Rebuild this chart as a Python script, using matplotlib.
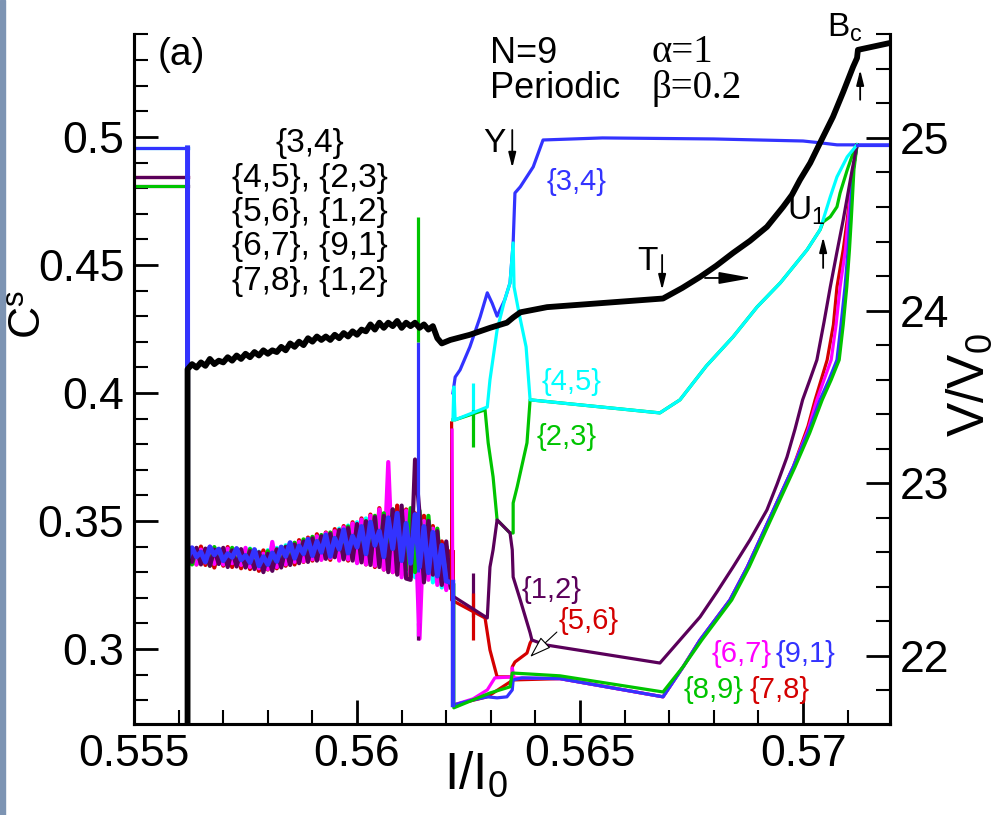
import matplotlib
matplotlib.use("Agg")
import matplotlib.pyplot as plt
from matplotlib.patches import Rectangle
from matplotlib.ticker import MultipleLocator, FuncFormatter

plt.rcParams['font.family'] = ['Liberation Sans', 'DejaVu Sans']
plt.rcParams['mathtext.fontset'] = 'custom'
plt.rcParams['mathtext.rm'] = 'Liberation Sans'
plt.rcParams['mathtext.it'] = 'Liberation Sans:italic'
plt.rcParams['mathtext.bf'] = 'Liberation Sans:bold'

BLUE = '#3333ff'
PURPLE = '#5a005a'
GREEN = '#00c400'
RED = '#d40000'
MAGENTA = '#ff00ff'
CYAN = '#00ffff'

# ---- data : Cs (left axis) -------------------------------------------------
pre_x = [0.5550, 0.5562]
pre_blue = [0.4957, 0.4957]
pre_purple = [0.4844, 0.4844]
pre_green = [0.4809, 0.4809]

band_x = [0.5562, 0.5563, 0.5564, 0.5565, 0.5566, 0.5567, 0.5568, 0.5569, 0.5570, 0.5571,
          0.5572, 0.5573, 0.5574, 0.5575, 0.5576, 0.5577, 0.5578, 0.5579, 0.5580, 0.5581,
          0.5582, 0.5583, 0.5584, 0.5585, 0.5586, 0.5587, 0.5588, 0.5589, 0.5590, 0.5591,
          0.5592, 0.5593, 0.5594, 0.5595, 0.5596, 0.5597, 0.5598, 0.5599, 0.5600, 0.5601,
          0.5602, 0.5603, 0.5604, 0.5605, 0.5606, 0.5607, 0.5608, 0.5609, 0.5610, 0.5611,
          0.5612, 0.5613, 0.5614, 0.5615, 0.5616, 0.5617, 0.5618, 0.5619, 0.5620, 0.5621]

band_blue = [0.3352, 0.3395, 0.3360, 0.3378, 0.3340, 0.3398, 0.3368, 0.3390, 0.3345, 0.3372,
             0.3358, 0.3392, 0.3348, 0.3365, 0.3338, 0.3388, 0.3325, 0.3360, 0.3330, 0.3375,
             0.3342, 0.3398, 0.3362, 0.3415, 0.3355, 0.3402, 0.3372, 0.3428, 0.3365, 0.3420,
             0.3378, 0.3445, 0.3362, 0.3432, 0.3390, 0.3465, 0.3375, 0.3440, 0.3398, 0.3478,
             0.3372, 0.3495, 0.3405, 0.3460, 0.3360, 0.3512, 0.3392, 0.3530, 0.3345, 0.3490,
             0.3335, 0.3525, 0.3320, 0.3478, 0.3298, 0.3455, 0.3285, 0.3405, 0.3265, 0.3260]
band_green = [0.3375, 0.3330, 0.3392, 0.3335, 0.3388, 0.3325, 0.3398, 0.3340, 0.3385, 0.3328,
              0.3395, 0.3330, 0.3380, 0.3322, 0.3390, 0.3318, 0.3375, 0.3310, 0.3382, 0.3315,
              0.3390, 0.3325, 0.3400, 0.3335, 0.3415, 0.3345, 0.3428, 0.3350, 0.3438, 0.3355,
              0.3445, 0.3360, 0.3455, 0.3365, 0.3462, 0.3355, 0.3478, 0.3360, 0.3485, 0.3352,
              0.3500, 0.3345, 0.3520, 0.3340, 0.3530, 0.3330, 0.3545, 0.3320, 0.3535, 0.3310,
              0.3550, 0.3300, 0.3540, 0.3290, 0.3520, 0.3300, 0.3470, 0.3260, 0.3400, 0.3250]
band_red = [0.3320, 0.3385, 0.3330, 0.3400, 0.3328, 0.3395, 0.3318, 0.3390, 0.3325, 0.3398,
            0.3320, 0.3392, 0.3315, 0.3385, 0.3312, 0.3378, 0.3305, 0.3385, 0.3310, 0.3390,
            0.3315, 0.3398, 0.3325, 0.3410, 0.3330, 0.3425, 0.3340, 0.3435, 0.3345, 0.3448,
            0.3350, 0.3455, 0.3348, 0.3468, 0.3352, 0.3480, 0.3345, 0.3495, 0.3340, 0.3510,
            0.3330, 0.3525, 0.3320, 0.3550, 0.3310, 0.3580, 0.3300, 0.3560, 0.3290, 0.3545,
            0.3280, 0.3530, 0.3285, 0.3520, 0.3300, 0.3480, 0.3280, 0.3420, 0.3250, 0.3380]
band_magenta = [0.3360, 0.3395, 0.3330, 0.3388, 0.3338, 0.3400, 0.3332, 0.3385, 0.3330, 0.3392,
                0.3335, 0.3380, 0.3328, 0.3395, 0.3320, 0.3380, 0.3315, 0.3372, 0.3312, 0.3418,
                0.3320, 0.3390, 0.3330, 0.3405, 0.3340, 0.3418, 0.3342, 0.3430, 0.3350, 0.3440,
                0.3348, 0.3452, 0.3355, 0.3460, 0.3345, 0.3475, 0.3350, 0.3490, 0.3335, 0.3505,
                0.3330, 0.3520, 0.3325, 0.3545, 0.3310, 0.3730, 0.3300, 0.3530, 0.3280, 0.3540,
                0.3290, 0.3510, 0.3040, 0.3500, 0.3270, 0.3470, 0.3250, 0.3400, 0.3230, 0.3350]
band_purple = [0.3410, 0.3340, 0.3395, 0.3330, 0.3392, 0.3325, 0.3388, 0.3332, 0.3395, 0.3320,
               0.3385, 0.3322, 0.3390, 0.3318, 0.3382, 0.3312, 0.3378, 0.3300, 0.3372, 0.3305,
               0.3388, 0.3318, 0.3398, 0.3328, 0.3408, 0.3335, 0.3420, 0.3340, 0.3432, 0.3345,
               0.3440, 0.3352, 0.3450, 0.3358, 0.3465, 0.3350, 0.3472, 0.3345, 0.3488, 0.3338,
               0.3498, 0.3328, 0.3515, 0.3320, 0.3520, 0.3300, 0.3545, 0.3290, 0.3560, 0.3275,
               0.3270, 0.3740, 0.3530, 0.3260, 0.3500, 0.3290, 0.3460, 0.3250, 0.3420, 0.3240]
band_cyan = [0.3385, 0.3335, 0.3392, 0.3340, 0.3380, 0.3328, 0.3395, 0.3332, 0.3390, 0.3325,
             0.3388, 0.3330, 0.3384, 0.3320, 0.3392, 0.3315, 0.3380, 0.3308, 0.3386, 0.3318,
             0.3395, 0.3322, 0.3405, 0.3330, 0.3412, 0.3338, 0.3425, 0.3345, 0.3435, 0.3350,
             0.3442, 0.3358, 0.3450, 0.3362, 0.3470, 0.3365, 0.3482, 0.3355, 0.3495, 0.3348,
             0.3510, 0.3340, 0.3518, 0.3330, 0.3525, 0.3320, 0.3540, 0.3310, 0.3530, 0.3290,
             0.3520, 0.3280, 0.3515, 0.3270, 0.3490, 0.3260, 0.3450, 0.3240, 0.3400, 0.3260]

# branches after the band
blue34_x = [0.56215, 0.56220, 0.56231, 0.56253, 0.56276, 0.56292, 0.56303, 0.56314, 0.56331,
            0.56343, 0.56350, 0.56354, 0.56366, 0.56395, 0.56417, 0.5655, 0.5680, 0.5700,
            0.57038, 0.57076, 0.57121, 0.57195]
blue34_y = [0.4000, 0.4062, 0.4090, 0.4180, 0.4297, 0.4391, 0.4350, 0.4300, 0.4363,
            0.4430, 0.4586, 0.4781, 0.4805, 0.4883, 0.4988, 0.4996, 0.4992, 0.4984,
            0.4977, 0.4969, 0.4969, 0.4969]
blue91_x = [0.56216, 0.56216, 0.56260, 0.56292, 0.56314, 0.56336, 0.56348, 0.56350, 0.56370,
            0.56455, 0.56686, 0.56731, 0.56769, 0.56836, 0.56875, 0.56910, 0.56978, 0.57011,
            0.57038, 0.57058, 0.57076, 0.57085, 0.57094, 0.57101, 0.57105, 0.57112, 0.57121]
blue91_y = [0.3260, 0.2781, 0.2801, 0.2813, 0.2809, 0.2813, 0.2840, 0.2879, 0.2887,
            0.2884, 0.2813, 0.2930, 0.3035, 0.3191, 0.3320, 0.3453, 0.3711, 0.3844,
            0.3973, 0.4051, 0.4129, 0.4266, 0.4414, 0.4559, 0.4676, 0.4871, 0.4969]
green89_x = [0.56217, 0.56217, 0.56298, 0.56343, 0.56348, 0.56388, 0.56455, 0.56686, 0.56733,
             0.56773, 0.56840, 0.56879, 0.56914, 0.56982, 0.57015, 0.57043, 0.57063, 0.57081,
             0.57090, 0.57098, 0.57104, 0.57108, 0.57114, 0.57121]
green89_y = [0.3250, 0.2770, 0.2828, 0.2852, 0.2906, 0.2902, 0.2895, 0.2832, 0.2935,
             0.3035, 0.3191, 0.3320, 0.3453, 0.3711, 0.3844, 0.3973, 0.4051, 0.4129,
             0.4266, 0.4414, 0.4559, 0.4676, 0.4871, 0.4969]
green23_x = [0.56215, 0.56220, 0.56287, 0.56294, 0.56305, 0.56314, 0.56343, 0.56350, 0.56350,
             0.56359, 0.56381, 0.56388, 0.56679, 0.56724, 0.56783, 0.56843, 0.56897, 0.56949,
             0.57009, 0.57038, 0.57045, 0.57061, 0.57076, 0.57083, 0.57099, 0.57117, 0.57121]
green23_y = [0.3895, 0.3895, 0.3934, 0.3805, 0.3672, 0.3504, 0.3453, 0.3453, 0.3570,
             0.3633, 0.3805, 0.3973, 0.3922, 0.3973, 0.4105, 0.4219, 0.4336, 0.4430,
             0.4559, 0.4637, 0.4668, 0.4688, 0.4727, 0.4781, 0.4871, 0.4961, 0.4969]
cyan45_x = [0.56215, 0.56217, 0.56220, 0.56292, 0.56298, 0.56314, 0.56331, 0.56343, 0.56350,
            0.56352, 0.56363, 0.56379, 0.56388, 0.56679, 0.56724, 0.56783, 0.56843, 0.56897,
            0.56949, 0.57009, 0.57038, 0.57061, 0.57076, 0.57099, 0.57121]
cyan45_y = [0.3895, 0.4023, 0.3895, 0.3945, 0.4051, 0.4246, 0.4363, 0.4430, 0.4586,
            0.4414, 0.4313, 0.4180, 0.3973, 0.3922, 0.3973, 0.4105, 0.4219, 0.4336,
            0.4430, 0.4559, 0.4637, 0.4766, 0.4844, 0.4922, 0.4969]
purple12_x = [0.56218, 0.56292, 0.56298, 0.56305, 0.56314, 0.56343, 0.56348, 0.56350, 0.56366,
              0.56388, 0.56392, 0.56422, 0.56679, 0.56724, 0.56769, 0.56807, 0.56843, 0.56881,
              0.56919, 0.56942, 0.56964, 0.56982, 0.56999, 0.57016, 0.57031, 0.57047, 0.57061,
              0.57076, 0.57090, 0.57110, 0.57121]
purple12_y = [0.3203, 0.3121, 0.3320, 0.3387, 0.3504, 0.3453, 0.3387, 0.3281, 0.3191,
              0.3063, 0.3035, 0.3016, 0.2945, 0.3035, 0.3125, 0.3223, 0.3320, 0.3426,
              0.3543, 0.3645, 0.3750, 0.3859, 0.3973, 0.4055, 0.4129, 0.4277, 0.4414,
              0.4551, 0.4676, 0.4871, 0.4969]
red56_x = [0.56212, 0.56212, 0.56287, 0.56298, 0.56314, 0.56348, 0.56348, 0.56354, 0.56381,
           0.56388, 0.56392]
red56_y = [0.3883, 0.3191, 0.3121, 0.2996, 0.2891, 0.2891, 0.2930, 0.2949, 0.2984,
           0.3023, 0.3035]
red78_x = [0.56216, 0.56216, 0.56292, 0.56350, 0.56455, 0.56686, 0.56731, 0.56769, 0.56836,
           0.56875, 0.56910, 0.56978, 0.57011, 0.57027, 0.57054, 0.57068, 0.57076, 0.57090,
           0.57099, 0.57112, 0.57121]
red78_y = [0.3380, 0.2781, 0.2813, 0.2879, 0.2884, 0.2813, 0.2930, 0.3035, 0.3191,
           0.3320, 0.3453, 0.3711, 0.3870, 0.3973, 0.4129, 0.4266, 0.4414, 0.4559,
           0.4676, 0.4871, 0.4969]
magenta67_x = [0.56213, 0.56216, 0.56260, 0.56292, 0.56309, 0.56348, 0.56348, 0.56352, 0.56455,
               0.56686, 0.56731, 0.56769, 0.56836, 0.56875, 0.56910, 0.56978, 0.57011, 0.57031,
               0.57063, 0.57074, 0.57083, 0.57095, 0.57101, 0.57112, 0.57121]
magenta67_y = [0.3855, 0.2781, 0.2805, 0.2840, 0.2887, 0.2891, 0.2926, 0.2887, 0.2884,
               0.2813, 0.2930, 0.3035, 0.3191, 0.3320, 0.3453, 0.3711, 0.3855, 0.3973,
               0.4129, 0.4266, 0.4414, 0.4559, 0.4676, 0.4871, 0.4969]

# isolated spikes: (x, low, high)
spike_x = [0.56137, 0.56137, 0.56137, 0.56137, 0.56260, 0.56260, 0.56260, 0.56260]
spike_lo = [0.3050, 0.4199, 0.3036, 0.3050, 0.3895, 0.3789, 0.3125, 0.3035]
spike_hi = [0.4199, 0.4688, 0.3100, 0.3300, 0.4039, 0.3934, 0.3297, 0.3219]
spike_c = [BLUE, GREEN, PURPLE, MAGENTA, CYAN, GREEN, PURPLE, RED]

# ---- data : V/V0 (right axis) ----------------------------------------------
black_rise_x = [0.5562]
black_rise_v = [21.50]
black_noise_v = [23.66, 23.69, 23.67, 23.70, 23.68, 23.72, 23.69, 23.71, 23.70, 23.73,
                 23.71, 23.74, 23.72, 23.75, 23.73, 23.76, 23.74, 23.77, 23.75, 23.77,
                 23.76, 23.79, 23.77, 23.81, 23.79, 23.82, 23.80, 23.84, 23.82, 23.85,
                 23.83, 23.85, 23.83, 23.86, 23.84, 23.87, 23.85, 23.88, 23.86, 23.89,
                 23.88, 23.92, 23.89, 23.93, 23.90, 23.93, 23.91, 23.94, 23.90, 23.93,
                 23.91, 23.93, 23.90, 23.92, 23.89, 23.91, 23.84]
black_smooth_x = [0.56190, 0.56209, 0.56253, 0.56298, 0.56336, 0.56350, 0.56366, 0.56426,
                  0.56686, 0.56729, 0.56769, 0.56805, 0.56843, 0.56881, 0.56919, 0.56955,
                  0.56975, 0.56993, 0.57016, 0.57038, 0.57067, 0.57090, 0.57112, 0.57121,
                  0.57123, 0.57195]
black_smooth_v = [23.81, 23.83, 23.86, 23.90, 23.93, 23.96, 23.99, 24.02,
                  24.07, 24.131, 24.195, 24.259, 24.334, 24.404, 24.485, 24.60,
                  24.67, 24.757, 24.855, 24.971, 25.122, 25.266, 25.411, 25.463,
                  25.51, 25.55]

fig = plt.figure(figsize=(10.04, 8.15), dpi=100)
fig.patches.append(Rectangle((0, 0), 5 / 1004, 1, transform=fig.transFigure,
                             color='#7d94b3', zorder=0))
ax = fig.add_axes([0.1335, 0.1117, 0.753, 0.8466])
ax2 = ax.twinx()

# flat part and noisy band
for pre_y, band_y, col in [(pre_blue, band_cyan, CYAN), (pre_purple, band_red, RED),
                           (pre_green, band_magenta, MAGENTA), (pre_green, band_green, GREEN),
                           (pre_purple, band_purple, PURPLE), (pre_blue, band_blue, BLUE)]:
    ax.plot(pre_x, pre_y, color=col, lw=2.3, zorder=2)
    ax.plot(pre_x[-1:] + band_x, pre_y[-1:] + band_y, color=col,
            lw=3.6 if col == BLUE else 3.0, zorder=2)

ax.vlines(spike_x, spike_lo, spike_hi, colors=spike_c, lw=2.3, zorder=2)

branches = [(red56_x, red56_y, RED), (red78_x, red78_y, RED),
            (magenta67_x, magenta67_y, MAGENTA),
            (blue34_x, blue34_y, BLUE), (blue91_x, blue91_y, BLUE),
            (green89_x, green89_y, GREEN), (green23_x, green23_y, GREEN),
            (purple12_x, purple12_y, PURPLE), (cyan45_x, cyan45_y, CYAN)]
for bx, by, col in branches:
    ax.plot(bx, by, color=col, lw=2.3, zorder=3)
ax.plot(blue91_x[:2], blue91_y[:2], color=BLUE, lw=3.2, zorder=3)
# blue flat tail on top
ax.plot(blue34_x[-2:], blue34_y[-2:], color=BLUE, lw=2.3, zorder=4)

black_x = black_rise_x + band_x[:len(black_noise_v)] + black_smooth_x
black_v = black_rise_v + black_noise_v + black_smooth_v
ax2.plot(black_x, black_v, color='k', lw=4.2, zorder=5)

# axes
ax.set_xlim(0.555, 0.57195)
ax.set_ylim(0.2707, 0.5402)
ax2.set_ylim(21.606, 25.602)
fmt = FuncFormatter(lambda v, p: f'{round(v, 4):g}')
ax.xaxis.set_major_locator(MultipleLocator(0.005))
ax.xaxis.set_minor_locator(MultipleLocator(0.001))
ax.yaxis.set_major_locator(MultipleLocator(0.05))
ax.yaxis.set_minor_locator(MultipleLocator(0.01))
ax2.yaxis.set_major_locator(MultipleLocator(1))
ax2.yaxis.set_minor_locator(MultipleLocator(0.2))
ax.xaxis.set_major_formatter(fmt)
ax.yaxis.set_major_formatter(fmt)
ax2.yaxis.set_major_formatter(fmt)

for a in (ax, ax2):
    a.spines['top'].set_visible(False)
    for s in ('left', 'right', 'bottom'):
        a.spines[s].set_linewidth(2.2)
    a.tick_params(which='major', direction='in', length=17, width=2, labelsize=32, pad=7)
    a.tick_params(which='minor', direction='in', length=10, width=1.5)
ax.tick_params(which='both', top=False, right=False)
ax2.tick_params(which='both', left=False, right=True)

ax.set_xlabel('I/I$_0$', fontsize=37)
ax.xaxis.set_label_coords(0.452, -0.074)
ax.xaxis.label.set_va('center')
ax.set_ylabel('C$^\\mathregular{s}$', fontsize=32)
ax.yaxis.set_label_coords(-0.138, 0.593)
ax.yaxis.label.set_va('center')
ax2.set_ylabel('V/V$_0$', fontsize=37)
ax2.yaxis.set_label_coords(1.106, 0.491)
ax2.yaxis.label.set_va('center')

# text
ax.text(0.55605, 0.5320, '(a)', fontsize=28, ha='center', va='center')
ax.text(0.56298, 0.5324, 'N=9', fontsize=26, ha='left', va='center')
ax.text(0.56298, 0.5191, 'Periodic', fontsize=26, ha='left', va='center')
ax.text(0.56661, 0.5328, '\u03b1=1', fontsize=28, ha='left', va='center', family='Liberation Serif')
ax.text(0.56661, 0.5191, '\u03b2=0.2', fontsize=28, ha='left', va='center', family='Liberation Serif')

block_lines = ['{3,4}', '{4,5}, {2,3}', '{5,6}, {1,2}', '{6,7}, {9,1}', '{7,8}, {1,2}']
block_y = [0.4973, 0.4836, 0.4703, 0.4570, 0.4434]
for txt, yy in zip(block_lines, block_y):
    ax.text(0.55895, yy, txt, fontsize=24, ha='center', va='center')

labels = [('{3,4}', 0.56493, 0.4824, BLUE), ('{4,5}', 0.56480, 0.4043, CYAN),
          ('{2,3}', 0.56469, 0.3828, GREEN), ('{1,2}', 0.56435, 0.3230, PURPLE),
          ('{5,6}', 0.56520, 0.3109, RED), ('{6,7}', 0.56863, 0.2980, MAGENTA),
          ('{9,1}', 0.57005, 0.2980, BLUE), ('{8,9}', 0.56800, 0.2840, GREEN),
          ('{7,8}', 0.56948, 0.2840, RED)]
for txt, lx, ly, col in labels:
    ax.text(lx, ly, txt, fontsize=21, color=col, ha='center', va='center')

ax.text(0.56283, 0.4941, 'Y', fontsize=24, ha='left', va='baseline')
ax.text(0.56628, 0.4480, 'T', fontsize=24, ha='left', va='baseline')
ax.text(0.56964, 0.4676, 'U$_1$', fontsize=24, ha='left', va='baseline')
ax.text(0.57054, 0.5391, 'B$_\\mathregular{c}$', fontsize=24, ha='left', va='baseline')

small = dict(arrowstyle='-|>,head_length=0.6,head_width=0.15', color='k', lw=1.3,
             mutation_scale=15, shrinkA=0, shrinkB=0)
arrows = [((0.56348, 0.5027), (0.56348, 0.4879)), ((0.56684, 0.4539), (0.56684, 0.4402)),
          ((0.57045, 0.4488), (0.57045, 0.4609)), ((0.57128, 0.5145), (0.57128, 0.5262))]
for tail, head in arrows:
    ax.annotate('', xy=head, xytext=tail, arrowprops=small, zorder=6)
ax.annotate('', xy=(0.56886, 0.4449), xytext=(0.56780, 0.4449),
            arrowprops=dict(arrowstyle='-|>,head_length=1.0,head_width=0.18', color='k',
                            lw=1.3, mutation_scale=20, shrinkA=0, shrinkB=0))
ax.annotate('', xy=(0.56388, 0.2969), xytext=(0.56448, 0.3066),
            arrowprops=dict(arrowstyle='-|>,head_length=0.9,head_width=0.3', fc='white',
                            ec='k', lw=0.8, mutation_scale=15, shrinkA=0, shrinkB=0))

fig.savefig('out.png', dpi=100)
